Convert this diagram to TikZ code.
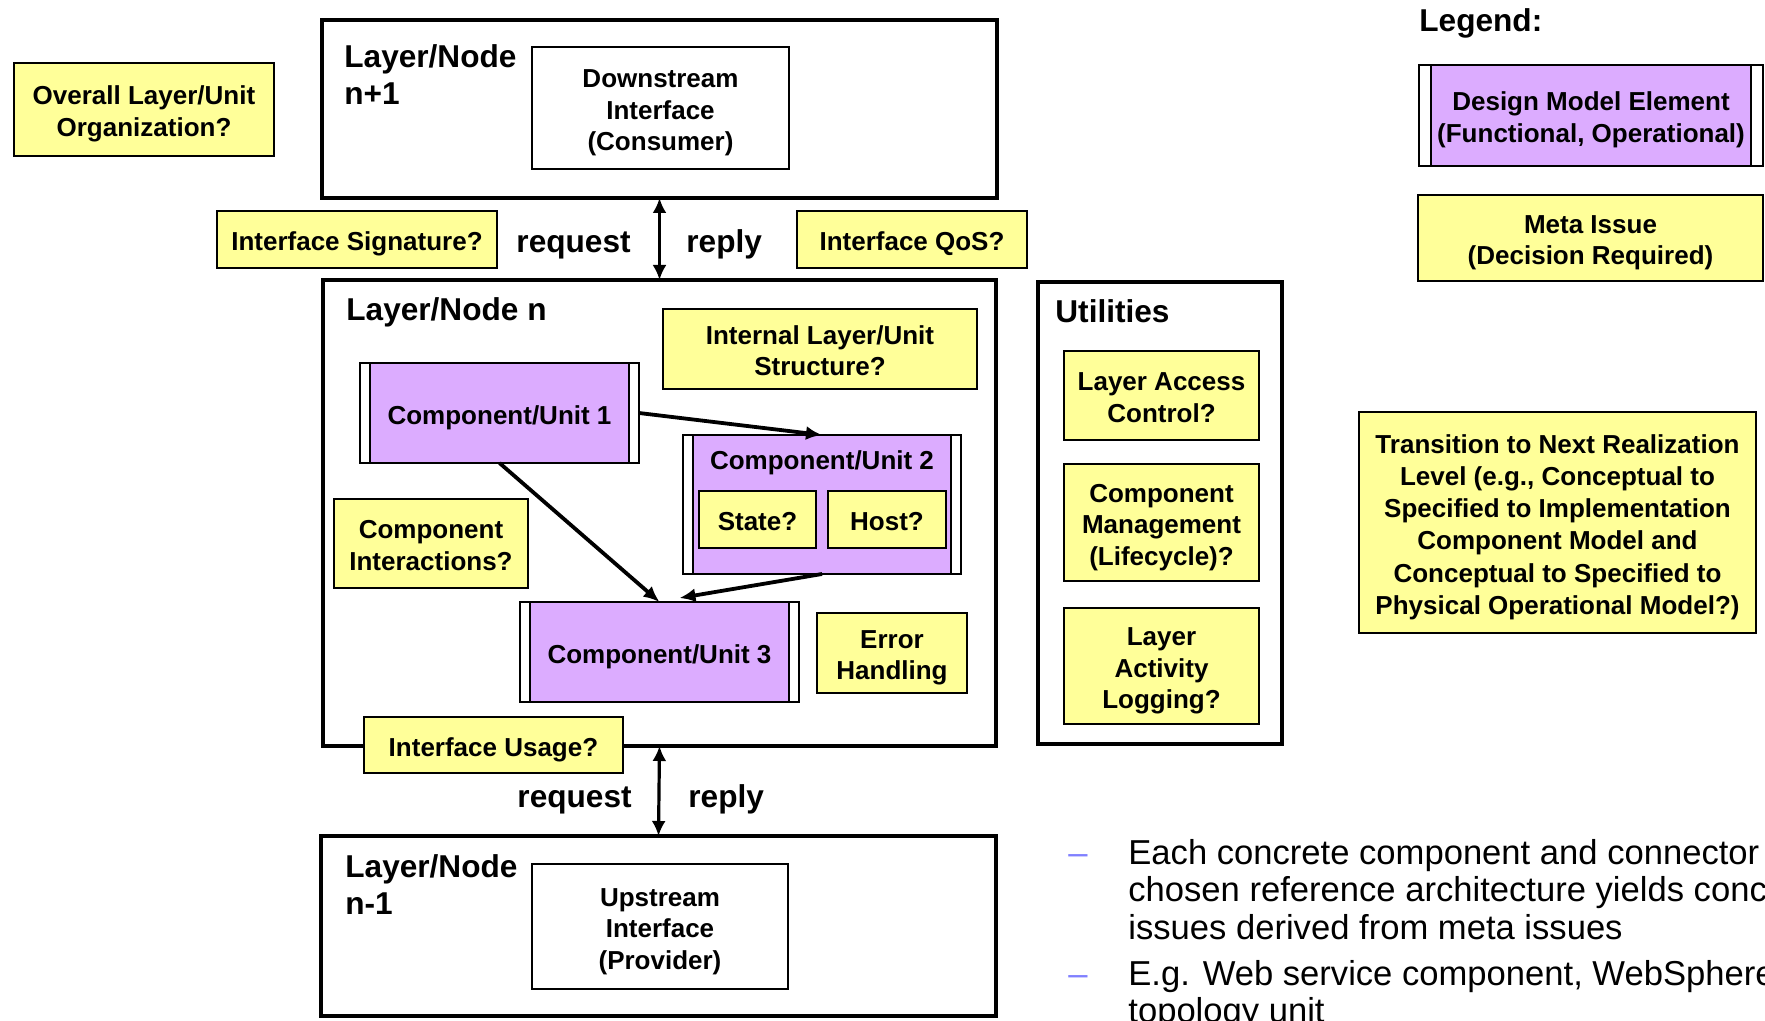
\documentclass[tikz,border=0pt]{standalone}
\usepackage{fontspec}
\setmainfont{Liberation Sans}
\usetikzlibrary{arrows.meta}
\definecolor{metay}{RGB}{255,255,153}
\definecolor{lilac}{RGB}{220,172,255}
\definecolor{dashc}{RGB}{128,128,255}
\newcommand\fbx{\fontsize{13}{15.75}\selectfont\bfseries}
\newcommand\fbxw{\fontsize{13}{16.1}\selectfont\bfseries}
\newcommand\ftl{\fontsize{15.8}{18.5}\selectfont\bfseries}
\newcommand\fbl{\fontsize{17.3}{18.75}\selectfont}
\newcommand\bxt[1]{\begin{tabular}[b]{@{}c@{}}#1\end{tabular}}
\begin{document}
\begin{tikzpicture}[x=0.5pt,y=-0.5pt,
  spanbox/.style n args={4}{at={({(#1+#3)/2},{(#2+#4)/2})}, minimum width={(#3-#1)*0.5pt}, minimum height={(#4-#2)*0.5pt}},
  bx/.style={inner sep=0pt, outer sep=0pt, anchor=center},
  txtbx/.style={bx, font=\fbx, text depth=0pt},
  meta/.style={txtbx, draw, line width=1pt, fill=metay},
  plainbx/.style={txtbx, draw, line width=1pt, fill=white},
  layerbx/.style={bx, draw, line width=2.2pt, fill=white},
  compbx/.style={txtbx, draw, line width=1pt, fill=white,
    path picture={
      \fill[lilac] ([xshift=#1]path picture bounding box.south west) rectangle ([xshift=-#1]path picture bounding box.north east);
      \draw[line width=1pt] ([xshift=#1]path picture bounding box.south west) -- ([xshift=#1]path picture bounding box.north west)
        ([xshift=-#1]path picture bounding box.south east) -- ([xshift=-#1]path picture bounding box.north east);
    }},
  compbx/.default=5pt,
  ttl/.style={inner sep=0pt, font=\ftl, align=left},
  flowarr/.style={line width=1.9pt, -{Latex[length=8pt,width=7pt]}},
  ifcarr/.style={line width=1.6pt, {Latex[length=7.5pt,width=7pt]}-{Latex[length=7.5pt,width=7pt]}},
]
\useasboundingbox (0,0) rectangle (1765,1021);
\clip (0,0) rectangle (1765,1021);

% left question
\node[meta, spanbox={14}{63}{274}{156}] (overall) {\bxt{Overall Layer/Unit\\Organization?}};

% layer n+1
\node[layerbx, spanbox={322}{20}{997}{198}] (ln1) {};
\node[ttl, anchor=north west] (ln1t) at (344,44) {Layer/Node\\n+1};
\node[plainbx, spanbox={532}{47}{789}{169}] (down) {\bxt{Downstream\\Interface\\(Consumer)}};

% interface between n+1 and n
\node[meta, spanbox={217}{211}{497}{268}] (isig) {\bxt{Interface Signature?}};
\node[meta, spanbox={797}{211}{1027}{268}] (iqos) {\bxt{Interface QoS?}};

% layer n
\node[layerbx, spanbox={323}{280}{996}{746}] (ln) {};
\node[ttl, anchor=base west] (lnt) at (346,321) {Layer/Node n};
\draw[ifcarr] (ln1.south) -- (ln.north);
\node[ttl, anchor=base east] (req1) at (631,253) {request};
\node[ttl, anchor=base west] (rep1) at (686,253) {reply};

\node[meta, spanbox={663}{309}{977}{389}] (intl) {\bxt{Internal Layer/Unit\\Structure?}};
\node[compbx, spanbox={360}{363}{639}{463}] (c1) {\bxt{Component/Unit 1}};
\node[compbx, spanbox={683}{435}{961}{574}] (c2) {};
\node[inner sep=0pt, font=\fbx, anchor=base] (c2t) at (822,469) {Component/Unit 2};
\node[meta, spanbox={699}{491}{816}{548}] (state) {\bxt{State?}};
\node[meta, spanbox={828}{491}{946}{548}] (host) {\bxt{Host?}};
\node[meta, spanbox={334}{499}{528}{588}] (cint) {\bxt{Component\\Interactions?}};
\node[compbx, spanbox={520}{602}{799}{702}] (c3) {\bxt{Component/Unit 3}};
\node[meta, spanbox={817}{613}{967}{693}] (err) {\bxt{Error\\Handling}};
\node[meta, spanbox={364}{717}{623}{773}] (iuse) {\bxt{Interface Usage?}};
\draw[flowarr] (c1.east) -- (c2.north);
\draw[flowarr] (c1.south) -- (c3.north);
\draw[flowarr] (c2.south) -- ([xshift=10pt,yshift=2pt]c3.north);

% layer n-1
\node[layerbx, spanbox={321}{836}{996}{1016}] (ln0) {};
\node[ttl, anchor=north west] (ln0t) at (345,854) {Layer/Node\\n-1};
\node[plainbx, spanbox={532}{864}{788}{989}] (up) {\bxt{Upstream\\Interface\\(Provider)}};
\draw[ifcarr] (ln.south) -- (ln0.north);
\node[ttl, anchor=base east] (req2) at (632,807) {request};
\node[ttl, anchor=base west] (rep2) at (688,807) {reply};

% utilities
\node[layerbx, spanbox={1038}{282}{1282}{744}] (util) {};
\node[ttl, anchor=base west] (utilt) at (1055,322) {Utilities};
\node[meta, spanbox={1064}{351}{1259}{440}] (lac) {\bxt{Layer Access\\Control?}};
\node[meta, spanbox={1064}{464}{1259}{581}] (cm) {\bxt{Component\\Management\\(Lifecycle)?}};
\node[meta, spanbox={1064}{608}{1259}{724}] (lal) {\bxt{Layer\\Activity\\Logging?}};

% transition
\node[meta, font=\fbxw, spanbox={1359}{412}{1756}{633}] (trans) {\bxt{Transition to Next Realization\\Level (e.g., Conceptual to\\Specified to Implementation\\Component Model and\\Conceptual to Specified to\\Physical Operational Model?)}};

% legend
\node[ttl, anchor=base west] (leg) at (1419,32) {Legend:};
\node[compbx=6pt, spanbox={1419}{65}{1763}{166}] (dme) {\bxt{Design Model Element\\(Functional, Operational)}};
\node[meta, spanbox={1418}{195}{1763}{281}] (mi) {\bxt{Meta Issue\\(Decision Required)}};

% bullets
\node[inner sep=0pt, font=\fbl, text=dashc, anchor=base west] (d1) at (1068,864) {–};
\node[inner sep=0pt, font=\fbl, text=dashc, anchor=base west] (d2) at (1068,985) {–};
\node[inner sep=0pt, font=\fbl, align=left, anchor=north west] (b1) at (1128,839) {Each concrete component and connector\\chosen reference architecture yields conc\\issues derived from meta issues};
\node[inner sep=0pt, font=\fbl, align=left, anchor=north west] (b2) at (1128,960) {E.g. Web service component, WebSphere\\topology unit};
\end{tikzpicture}
\end{document}
